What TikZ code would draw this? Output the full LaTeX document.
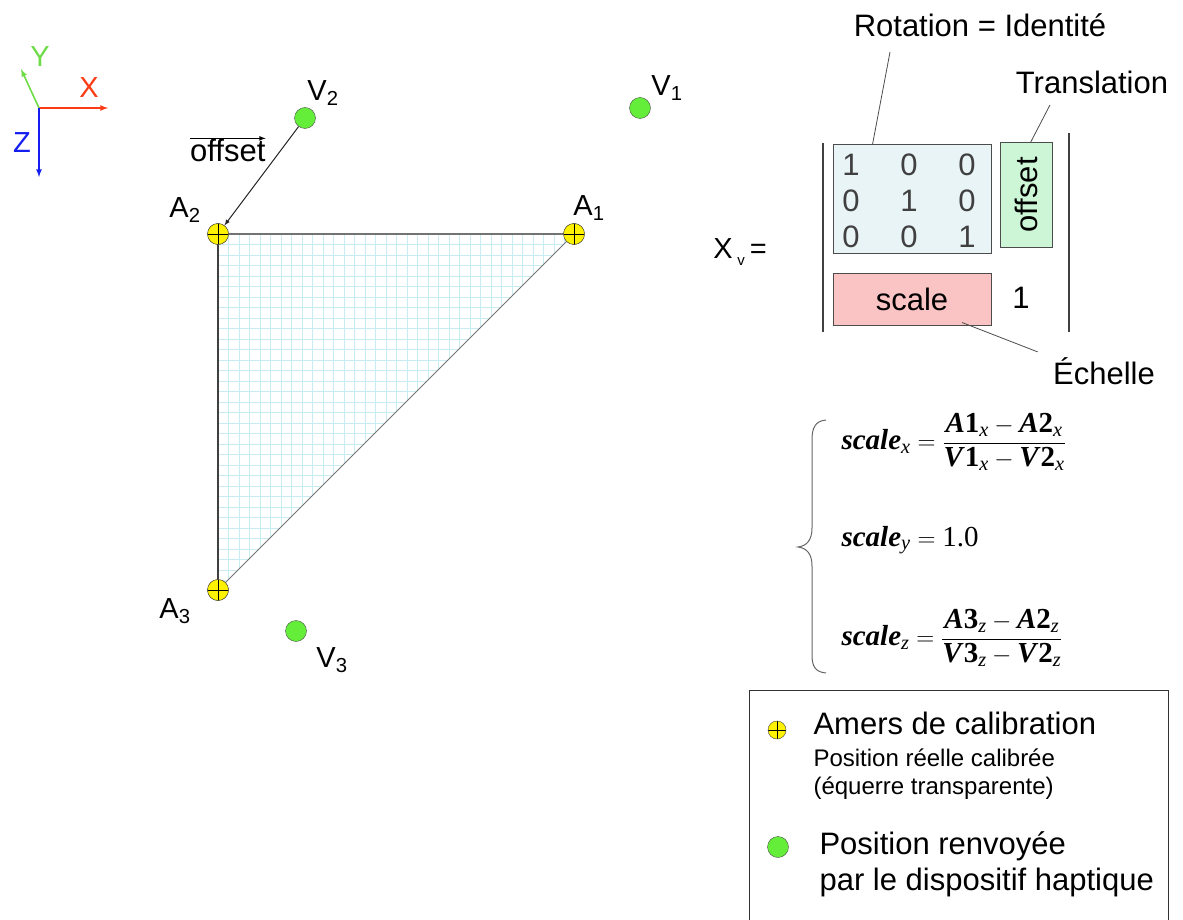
\documentclass[tikz,border=0pt]{standalone}
\usepackage{amsmath}
\usepackage{fontspec}
\setmainfont{Liberation Sans}
\newfontfamily\timesfont{Liberation Serif}
\usepackage{tikz}
\usetikzlibrary{shapes,arrows,positioning,calc}

\definecolor{ptgreen}{RGB}{100,238,58}
\definecolor{gridcyan}{RGB}{200,236,242}
\definecolor{rotfill}{RGB}{232,244,246}
\definecolor{transfill}{RGB}{204,246,214}
\definecolor{scalefill}{RGB}{250,196,196}
\definecolor{axisred}{RGB}{250,60,20}
\definecolor{axisgreen}{RGB}{110,220,70}
\definecolor{axisblue}{RGB}{20,30,240}

\begin{document}
\begin{tikzpicture}[x=1pt,y=-1pt,
    amer/.style={draw=black!75, fill=yellow, circle, minimum size=21pt, inner sep=0pt,
        path picture={\draw[black, line width=0.8pt]
            (path picture bounding box.north) -- (path picture bounding box.south)
            (path picture bounding box.west) -- (path picture bounding box.east);}},
    mesure/.style={draw=black!70, fill=ptgreen, circle, minimum size=21pt, inner sep=0pt},
    ptlabel/.style={font=\fontsize{29}{32}\selectfont},
    bigtext/.style={font=\fontsize{31}{36}\selectfont},
    smalltext/.style={font=\fontsize{24}{28}\selectfont},
    axislbl/.style={font=\fontsize{29}{32}\selectfont},
    block/.style={draw=black!70, line width=1pt, inner sep=0pt},
    callout/.style={draw=black!70, line width=0.8pt},
    eq/.style={anchor=west, font=\timesfont\fontsize{29}{34}\selectfont}]

\useasboundingbox (0,0) rectangle (1183,920);

% axes
\coordinate (o) at (39,108);
\draw[axisred, line width=1.6pt, -latex] (o) -- (108,108);
\draw[axisgreen, line width=1.6pt, -latex] (o) -- (21,69);
\draw[axisblue, line width=1.6pt, -latex] (o) -- (39,177);
\node[text=axisred, axislbl] at (89,88) {X};
\node[text=axisgreen, axislbl] at (40,57) {Y};
\node[text=axisblue, axislbl] at (22,143) {Z};

% equerre
\begin{scope}
\clip (218,234) -- (574,234) -- (218,590) -- cycle;
\foreach \g in {0,...,34} {
  \draw[gridcyan, line width=1pt] (218+10.5*\g,230) -- (218+10.5*\g,595);
  \draw[gridcyan, line width=1pt] (214,234+10.5*\g) -- (580,234+10.5*\g);
}
\end{scope}

\node[amer] (a2) at (218,234) {};
\node[amer] (a1) at (574,234) {};
\node[amer] (a3) at (218,590) {};
\draw[black!55, line width=1.2pt] (a2.center) -- (a1.center);
\draw[black!75, line width=1.2pt] (a2.center) -- (a3.center);
\draw[black!55, line width=1pt] (a1.center) -- (a3.center);
\node[amer] at (a2) {};
\node[amer] at (a1) {};
\node[amer] at (a3) {};

\node[mesure] (v2) at (305,118) {};
\node[mesure] (v1) at (640,108) {};
\node[mesure] (v3) at (296,631) {};

\draw[black!85, line width=1pt, -latex] (v2) -- (a2);

\node[bigtext, anchor=base west, inner sep=0pt] (off) at (190,162) {offset};
\draw[black, line width=1.2pt, -latex] ($(off.north west)+(0,-1)$) -- ($(off.north east)+(0,-1)$);

\node[ptlabel] at (323,93) {V\textsubscript{2}};
\node[ptlabel] at (667,88) {V\textsubscript{1}};
\node[ptlabel] at (185,210) {A\textsubscript{2}};
\node[ptlabel] at (589,208) {A\textsubscript{1}};
\node[ptlabel] at (175,611) {A\textsubscript{3}};
\node[ptlabel] at (332,660) {V\textsubscript{3}};

% matrice
\node[font=\fontsize{29}{32}\selectfont] at (740,252) {X\,\raisebox{-7pt}{\fontsize{15}{16}\selectfont v}\,=};
\draw[black!75, line width=1.2pt] (823,143) -- (823,332);
\draw[black!75, line width=1.2pt] (1069,133) -- (1069,332);

\node[block, fill=rotfill, minimum width=158pt, minimum height=108pt] (rot) at (912,199) {};
\node[block, fill=transfill, minimum width=52pt, minimum height=104pt] (trans) at (1026,195) {};
\node[block, fill=scalefill, minimum width=158pt, minimum height=52pt, bigtext] (sc) at (912,299) {scale};
\node[bigtext, rotate=90] at (trans) {offset};
\node[bigtext] at (1021,298) {1};

\foreach \i in {0,1,2}
  \foreach \j in {0,1,2} {
    \pgfmathtruncatemacro\val{\i==\j}
    \node[bigtext, text=black!75] at (851+58*\j,165+36*\i) {\val};
  }

\node[bigtext] (rotlbl) at (980,25) {Rotation = Identit\'e};
\node[bigtext] (translbl) at (1092,82) {Translation};
\node[bigtext] (echlbl) at (1104,371) {\'Echelle};
\draw[callout] ($(rotlbl.south)+(-90,12)$) -- ($(rot.north west)+(40,0)$);
\draw[callout] ($(translbl.south)+(-42,8)$) -- ($(trans.north east)+(-22,0)$);
\draw[callout] ($(sc.south)+(50,-3)$) -- ($(echlbl.north west)+(-12,-2)$);

% echelles
\draw[black!60, line width=1pt] (826,420) .. controls (815,421) and (812,428) .. (812,440)
  -- (812,528) .. controls (812,541) and (806,546) .. (798,547)
  .. controls (806,548) and (812,553) .. (812,566)
  -- (812,655) .. controls (812,666) and (815,672) .. (826,673);
\node[eq] at (838,442) {$\textbf{\textit{scale}}_{\textit{x}} = \dfrac{\textbf{\textit{A}1}_{\textit{x}} - \textbf{\textit{A}2}_{\textit{x}}}{\textbf{\textit{V}1}_{\textit{x}} - \textbf{\textit{V}2}_{\textit{x}}}$};
\node[eq] at (838,540) {$\textbf{\textit{scale}}_{\textit{y}} = \text{\timesfont 1.0}$};
\node[eq] at (838,638) {$\textbf{\textit{scale}}_{\textit{z}} = \dfrac{\textbf{\textit{A}3}_{\textit{z}} - \textbf{\textit{A}2}_{\textit{z}}}{\textbf{\textit{V}3}_{\textit{z}} - \textbf{\textit{V}2}_{\textit{z}}}$};

% legende
\draw[black!80, line width=1pt] (749,690) rectangle (1168,940);
\node[amer, minimum size=18pt] (legamer) at (777,730) {};
\node[mesure] (legmes) at (778,847) {};
\node[bigtext, anchor=west] at (810,723) {Amers de calibration};
\node[smalltext, anchor=west, align=left] at (810,774) {Position r\'eelle calibr\'ee\\(\'equerre transparente)};
\node[bigtext, anchor=west, align=left] at (816,864) {Position renvoy\'ee\\par le dispositif haptique};
\end{tikzpicture}
\end{document}
